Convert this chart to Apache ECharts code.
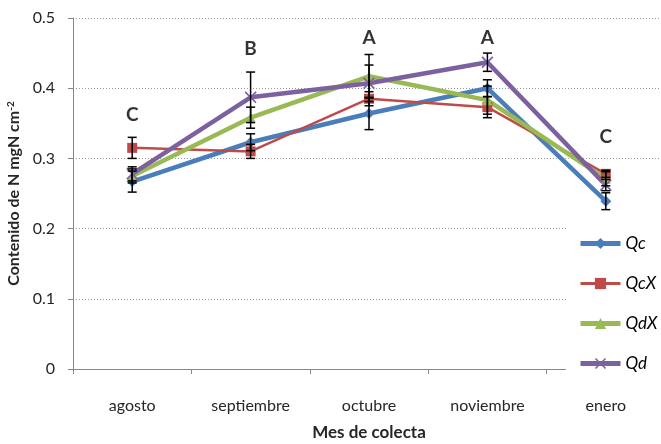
<!DOCTYPE html>
<html>
<head>
<meta charset="utf-8">
<script src="https://cdn.jsdelivr.net/npm/echarts@6/dist/echarts.min.js"></script>
<style>
  html, body { margin: 0; padding: 0; background: #fff; }
  #chart { width: 661px; height: 444px; }
</style>
</head>
<body>
<div id="chart"></div>
<script>
// Sampling months
var months = ['agosto', 'septiembre', 'octubre', 'noviembre', 'enero'];

// Mean N content (mg N cm-2) per treatment
var qc   = [0.267, 0.323, 0.364, 0.400, 0.239];
var qcX  = [0.315, 0.310, 0.385, 0.373, 0.278];
var qdX  = [0.275, 0.358, 0.417, 0.383, 0.271];
var qd   = [0.278, 0.387, 0.407, 0.437, 0.262];

// Standard errors
var qcErr  = [0.015, 0.012, 0.023, 0.012, 0.012];
var qcXErr = [0.015, 0.010, 0.010, 0.015, 0.005];
var qdXErr = [0.010, 0.015, 0.031, 0.020, 0.010];
var qdErr  = [0.010, 0.036, 0.026, 0.013, 0.008];

// Significance letters and their heights on the value axis
var letters = ['C', 'B', 'A', 'A', 'C'];
var letterY = [0.362, 0.456, 0.4715, 0.4715, 0.330];

var yTicks = [0, 0.1, 0.2, 0.3, 0.4, 0.5];

var FONT = 'Lato, "Open Sans", sans-serif';
var COLORS = { Qc: '#4A7EBB', QcX: '#BE4B48', QdX: '#98B954', Qd: '#7D60A0' };
var WIDTHS = { Qc: 4.5, QcX: 2.5, QdX: 4.5, Qd: 4.5 };
var crossPath = 'path://M0,1 L1,0 L5,4 L9,0 L10,1 L6,5 L10,9 L9,10 L5,6 L1,10 L0,9 L4,5 Z';

function lineSeries(name, values, symbol, size) {
  return {
    name: name,
    type: 'line',
    data: values,
    symbol: symbol,
    symbolSize: size,
    showSymbol: true,
    lineStyle: { color: COLORS[name], width: WIDTHS[name] },
    itemStyle: { color: COLORS[name] },
    z: 3
  };
}

function errorSeries(values, errs) {
  var data = values.map(function (v, i) { return [i, v, errs[i]]; });
  return {
    type: 'custom',
    data: data,
    encode: { x: 0, y: 1 },
    z: 4,
    silent: true,
    renderItem: function (params, api) {
      var i = api.value(0), v = api.value(1), e = api.value(2);
      var top = api.coord([i, v + e]);
      var bot = api.coord([i, v - e]);
      var hw = 4.5;
      var style = { stroke: '#000', lineWidth: 1.5 };
      return {
        type: 'group',
        children: [
          { type: 'line', shape: { x1: top[0], y1: top[1], x2: bot[0], y2: bot[1] }, style: style },
          { type: 'line', shape: { x1: top[0] - hw, y1: top[1], x2: top[0] + hw, y2: top[1] }, style: style },
          { type: 'line', shape: { x1: bot[0] - hw, y1: bot[1], x2: bot[0] + hw, y2: bot[1] }, style: style }
        ]
      };
    }
  };
}

function legendItem(name) {
  return { name: name, lineStyle: { width: WIDTHS[name] + 0.5, color: COLORS[name] } };
}

var chart = echarts.init(document.getElementById('chart'), null, { renderer: 'canvas' });

chart.setOption({
  animation: false,
  backgroundColor: '#fff',
  textStyle: { fontFamily: FONT },
  grid: { left: 73, top: 18, right: -4, bottom: 75, containLabel: false, outerBoundsMode: 'none' },
  xAxis: {
    type: 'category',
    data: months,
    boundaryGap: true,
    axisLine: { lineStyle: { color: '#868686', width: 1 } },
    axisTick: { show: true, length: 5, lineStyle: { color: '#868686' } },
    axisLabel: { color: '#262626', fontSize: 16, fontFamily: FONT, margin: 29 },
    name: 'Mes de colecta',
    nameLocation: 'middle',
    nameGap: 55,
    nameTextStyle: { color: '#262626', fontSize: 17, fontWeight: 'bold', fontFamily: FONT }
  },
  yAxis: {
    type: 'value',
    min: yTicks[0],
    max: yTicks[yTicks.length - 1],
    interval: 0.1,
    axisLine: { show: true, lineStyle: { color: '#868686', width: 1 } },
    axisTick: { show: true, length: 5, lineStyle: { color: '#868686' } },
    axisLabel: { color: '#262626', fontSize: 16, fontFamily: FONT, margin: 18 },
    splitLine: { show: true, lineStyle: { color: '#9a9a9a', width: 1, type: [1, 2] } },
    name: 'Contenido de N mgN cm{sup|-2}',
    nameLocation: 'middle',
    nameGap: 46,
    nameRotate: 90,
    nameTextStyle: {
      color: '#262626', fontSize: 16, fontWeight: 'bold', fontFamily: FONT,
      rich: {
        sup: { fontSize: 10, fontWeight: 'bold', verticalAlign: 'top', color: '#262626', fontFamily: FONT, padding: [0, 0, 6, 0] }
      }
    }
  },
  legend: {
    orient: 'vertical',
    left: 566,
    top: 218,
    padding: [17, 10, 22, 12],
    backgroundColor: '#fff',
    itemWidth: 40,
    itemHeight: 14,
    itemGap: 23,
    itemTextGap: 4,
    data: ['Qc', 'QcX', 'QdX', 'Qd'].map(legendItem),
    textStyle: { color: '#000', fontSize: 17, fontStyle: 'italic', fontFamily: FONT },
    z: 10
  },
  series: [
    lineSeries('Qc', qc, 'diamond', 11),
    lineSeries('QcX', qcX, 'rect', 10),
    lineSeries('QdX', qdX, 'triangle', 10),
    lineSeries('Qd', qd, crossPath, 12),
    errorSeries(qc, qcErr),
    errorSeries(qcX, qcXErr),
    errorSeries(qdX, qdXErr),
    errorSeries(qd, qdErr),
    {
      type: 'scatter',
      data: letterY.map(function (y, i) { return [i, y]; }),
      symbolSize: 1,
      itemStyle: { color: 'transparent' },
      silent: true,
      z: 5,
      label: {
        show: true,
        position: 'inside',
        formatter: function (p) { return letters[p.dataIndex]; },
        color: '#000',
        fontSize: 19,
        fontWeight: 'bold',
        fontFamily: FONT
      }
    }
  ]
});
</script>
</body>
</html>
